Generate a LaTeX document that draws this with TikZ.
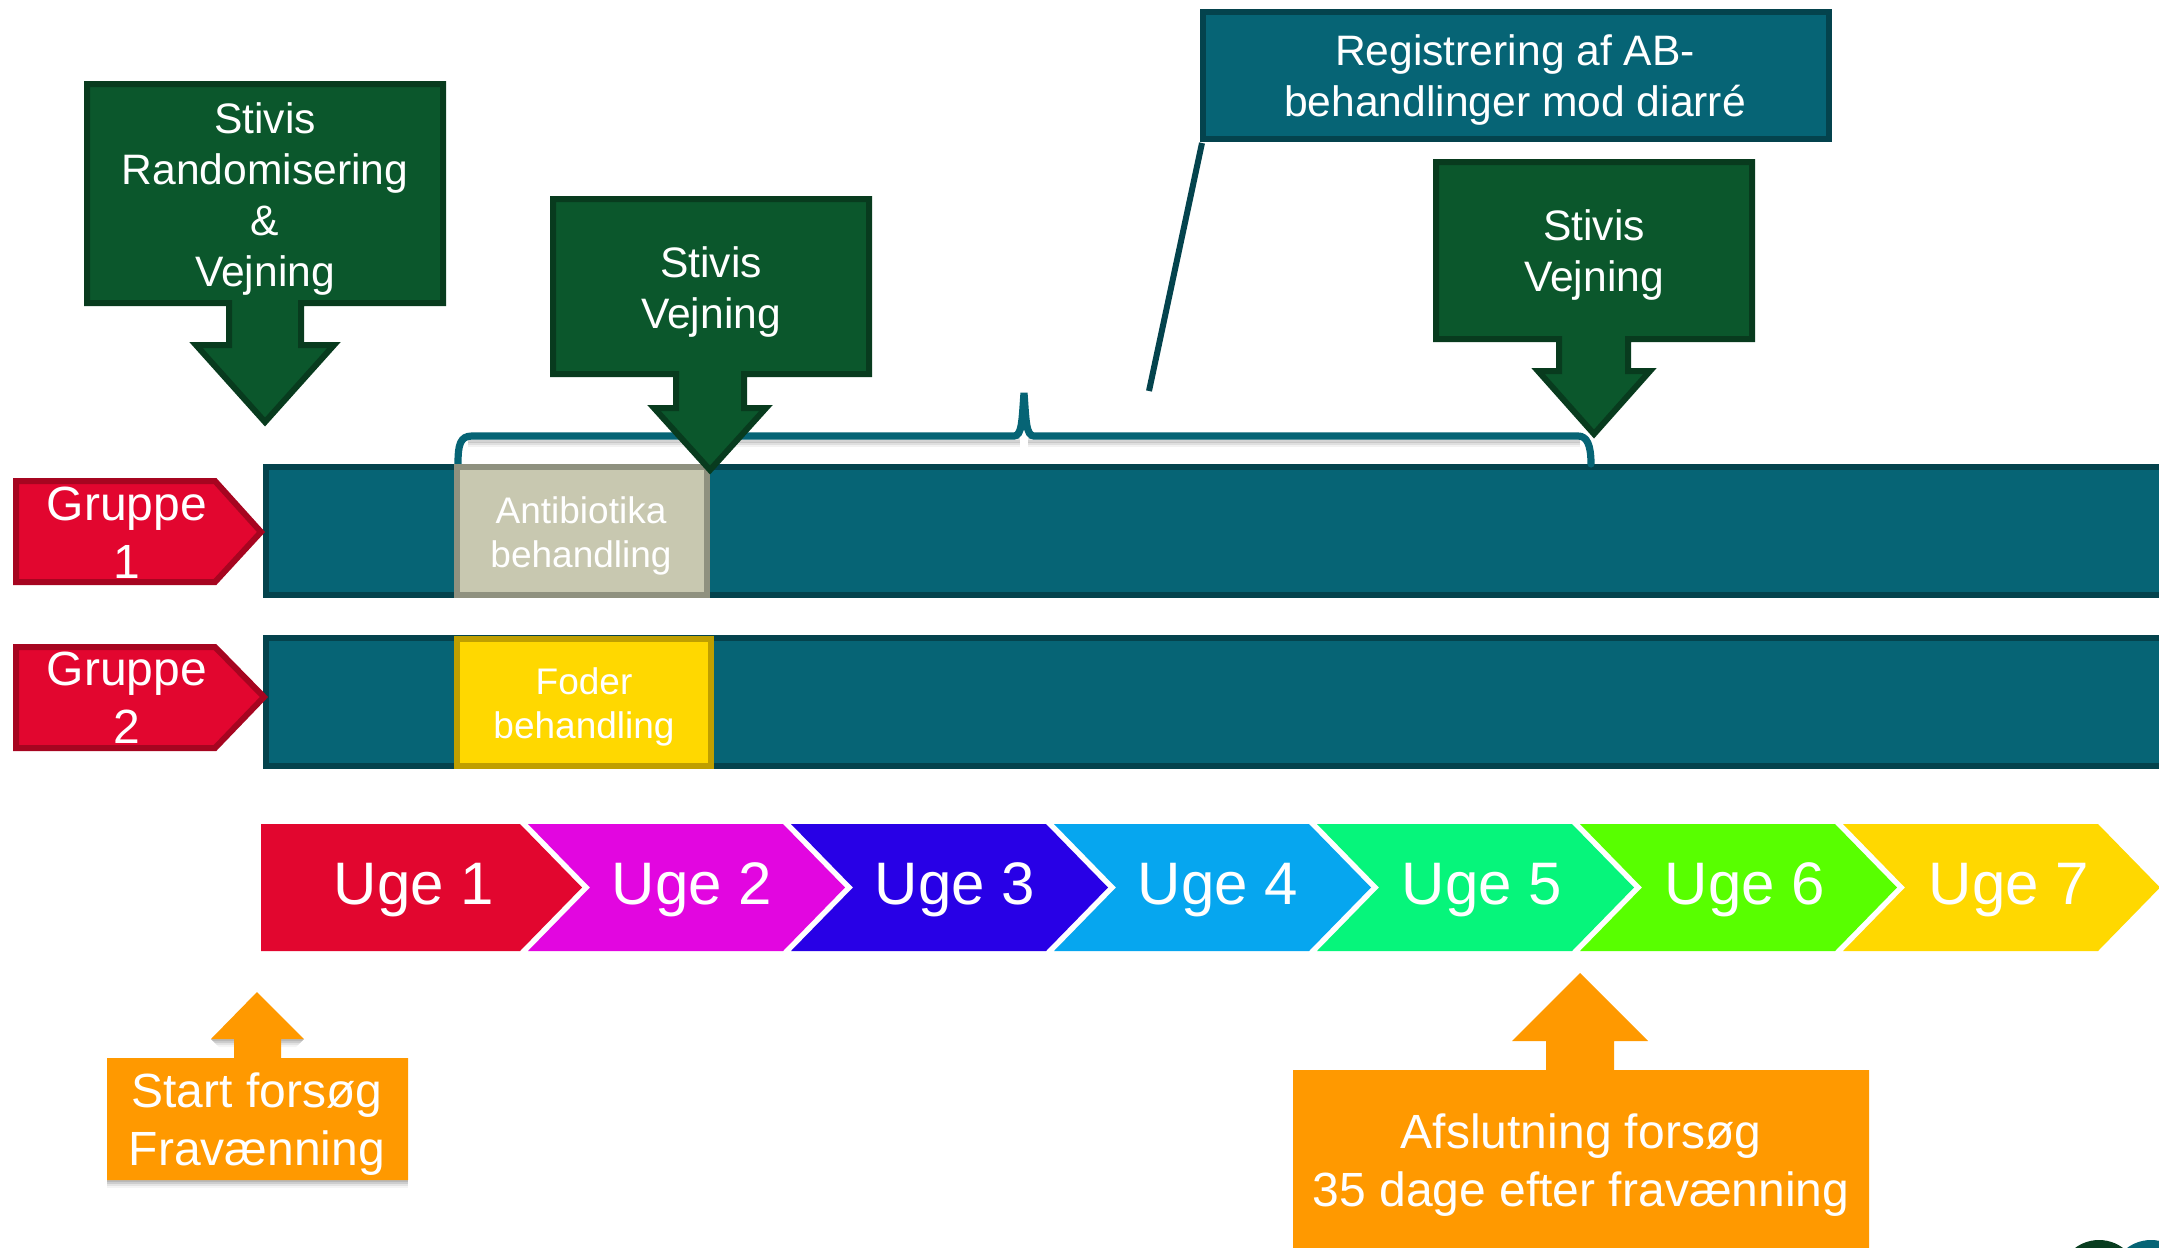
\documentclass[tikz,border=0pt]{standalone}
\usepackage{fontspec}
\setmainfont{Liberation Sans}
\definecolor{teal1}{HTML}{066475}
\definecolor{teal2}{HTML}{04434D}
\definecolor{green1}{HTML}{0B572C}
\definecolor{green2}{HTML}{083B1E}
\definecolor{red1}{HTML}{E2062F}
\definecolor{red2}{HTML}{A60520}
\definecolor{gray1}{HTML}{C8C8B0}
\definecolor{gray2}{HTML}{8F917F}
\definecolor{yellow1}{HTML}{FFD800}
\definecolor{yellow2}{HTML}{BF9F00}
\definecolor{orange1}{HTML}{FF9900}
\definecolor{uge1}{HTML}{E2062F}
\definecolor{uge2}{HTML}{E206E0}
\definecolor{uge3}{HTML}{2800E6}
\definecolor{uge4}{HTML}{06A6EF}
\definecolor{uge5}{HTML}{06F57B}
\definecolor{uge6}{HTML}{58FF00}
\definecolor{uge7}{HTML}{FFD800}
\tikzset{
 x=0.5pt,y=-0.5pt,
 txt/.style={text=white,align=center,inner sep=0pt,font=\fontsize{21.3}{25.6}\selectfont},
 gshape/.style={fill=green1,draw=green2,line width=3pt,line join=miter},
 gruppeshape/.style={fill=red1,draw=red2,line width=3pt,line join=miter},
 gruppetxt/.style={txt,font=\fontsize{24}{28.8}\selectfont},
 bar/.style={fill=teal1,draw=teal2,line width=3pt},
 smalltxt/.style={txt,font=\fontsize{18.5}{22}\selectfont},
 ugetxt/.style={txt,font=\fontsize{30}{34}\selectfont},
 orangeshape/.style={fill=orange1},
 orangetxt/.style={txt,font=\fontsize{24}{29}\selectfont},
 conn/.style={draw=teal1,line width=3.6pt,line cap=round},
}
\begin{document}
\begin{tikzpicture}
\useasboundingbox (0,0) rectangle (2159,1248);
\clip (0,0) rectangle (2159,1248);
% bars
\draw[bar] (266,467) rectangle (2175,595);
\draw[bar] (266,638) rectangle (2175,766);
% brace shadow and brace
\coordinate (bl) at (458,464);
\coordinate (bm) at (1024,393);
\coordinate (br) at (1591,464);
\foreach \o/\op in {4/.10,6/.08,8/.05}{
 \draw[black,opacity=\op,line width=2.5pt] (468,436+\o) -- (1020,436+\o);
 \draw[black,opacity=\op,line width=2.5pt] (1028,436+\o) -- (1580,436+\o);
}
\draw[conn] (bl) .. controls (458,445) and (460,436) .. (472,436) -- (1014,436)
  .. controls (1022,436) and (1022,420) .. (bm)
  .. controls (1026,420) and (1026,436) .. (1034,436) -- (1578,436)
  .. controls (1587,436) and (1591,445) .. (br);
% treatment boxes
\node[draw=gray2,fill=gray1,line width=3pt,minimum width=125pt,minimum height=64pt,inner sep=0pt,anchor=center] (ab) at (581.5,531) {};
\node[smalltxt] (abt) at (581,536) {Antibiotika\\behandling};
\node[draw=yellow2,fill=yellow1,line width=3pt,minimum width=127pt,minimum height=63.5pt,inner sep=0pt,anchor=center] (fo) at (583.5,702.5) {};
\node[smalltxt] (fot) at (584,707) {Foder\\behandling};
% gruppe
\draw[gruppeshape] (16,481) -- (215,481) -- (261,532) -- (215,582) -- (16,582) -- cycle;
\node[gruppetxt] (g1) at (127,533) {Gruppe\\1};
\draw[gruppeshape] (16,647) -- (215,647) -- (264,697) -- (215,748) -- (16,748) -- cycle;
\node[gruppetxt] (g2) at (127,698) {Gruppe\\2};
% callout
\coordinate (cfree) at (1149,391);
\node[fill=teal1,draw=teal2,line width=3pt,minimum width=313pt,minimum height=63.5pt,inner sep=0pt] (reg) at (1516,75.5) {};
\node[txt] (regt) at (1515,80) {Registrering af AB-\\behandlinger mod diarré};
\draw[draw=teal2,line width=3pt] (reg.south west) ++(2,1) -- (cfree);
% green arrows
\draw[gshape] (87,84) -- (443,84) -- (443,303) -- (301,303) -- (301,345) -- (334,345) -- (265,422) -- (196,345) -- (229,345) -- (229,303) -- (87,303) -- cycle;
\node[txt] (s1) at (265,199) {Stivis\\Randomisering\\\&\\Vejning};
\draw[gshape] (553,199) -- (869,199) -- (869,374) -- (744,374) -- (744,408) -- (766,408) -- (710,470) -- (654,408) -- (676,408) -- (676,374) -- (553,374) -- cycle;
\node[txt] (s2) at (711,292) {Stivis\\Vejning};
\draw[gshape] (1436,162) -- (1752,162) -- (1752,339) -- (1628,339) -- (1628,371) -- (1650,371) -- (1594,434) -- (1538,371) -- (1559,371) -- (1559,339) -- (1436,339) -- cycle;
\node[txt] (s3) at (1594,255) {Stivis\\Vejning};
% chevrons
\fill[uge1] (261,824) -- (520,824) -- (582,887.5) -- (520,951) -- (261,951) -- cycle;
\foreach \k/\c in {0/uge2,1/uge3,2/uge4,3/uge5,4/uge6,5/uge7}{
 \fill[\c] (528+263*\k,824) -- (783+263*\k,824) -- (845+263*\k,887.5) -- (783+263*\k,951) -- (528+263*\k,951) -- (590+263*\k,887.5) -- cycle;
}
\node[ugetxt] (u1) at (414,890) {Uge 1};
\node[ugetxt] (u2) at (692,890) {Uge 2};
\node[ugetxt] (u3) at (955,890) {Uge 3};
\node[ugetxt] (u4) at (1218,890) {Uge 4};
\node[ugetxt] (u5) at (1482,890) {Uge 5};
\node[ugetxt] (u6) at (1745,890) {Uge 6};
\node[ugetxt] (u7) at (2009,890) {Uge 7};
% orange shapes
\foreach \o/\op in {2/.10,4/.10,6/.07,8/.04}{
 \fill[black,opacity=\op] (107,1060) rectangle (408,1180+\o);
 \fill[black,opacity=\op] (211,1039) -- (234,1039) -- (234,1039+\o) -- (211+\o,1039+\o) -- cycle;
 \fill[black,opacity=\op] (281,1039) -- (304,1039) -- (304-\o,1039+\o) -- (281,1039+\o) -- cycle;
}
\fill[orangeshape] (107,1058) -- (234,1058) -- (234,1039) -- (211,1039) -- (257,992) -- (304,1039) -- (281,1039) -- (281,1058) -- (408,1058) -- (408,1180) -- (107,1180) -- cycle;
\node[orangetxt] (st) at (257,1124) {Start forsøg\\Fravænning};
\fill[orangeshape] (1293,1070) -- (1546,1070) -- (1546,1041) -- (1512,1041) -- (1580,973) -- (1648,1041) -- (1614,1041) -- (1614,1070) -- (1869,1070) -- (1869,1260) -- (1293,1260) -- cycle;
\node[orangetxt] (af) at (1581,1165) {Afslutning forsøg\\35 dage efter fravænning};
% logo fragments
\fill[green1!70!black] (2099,1280) circle (40);
\fill[teal1] (2151,1280) circle (40);
\end{tikzpicture}
\end{document}
